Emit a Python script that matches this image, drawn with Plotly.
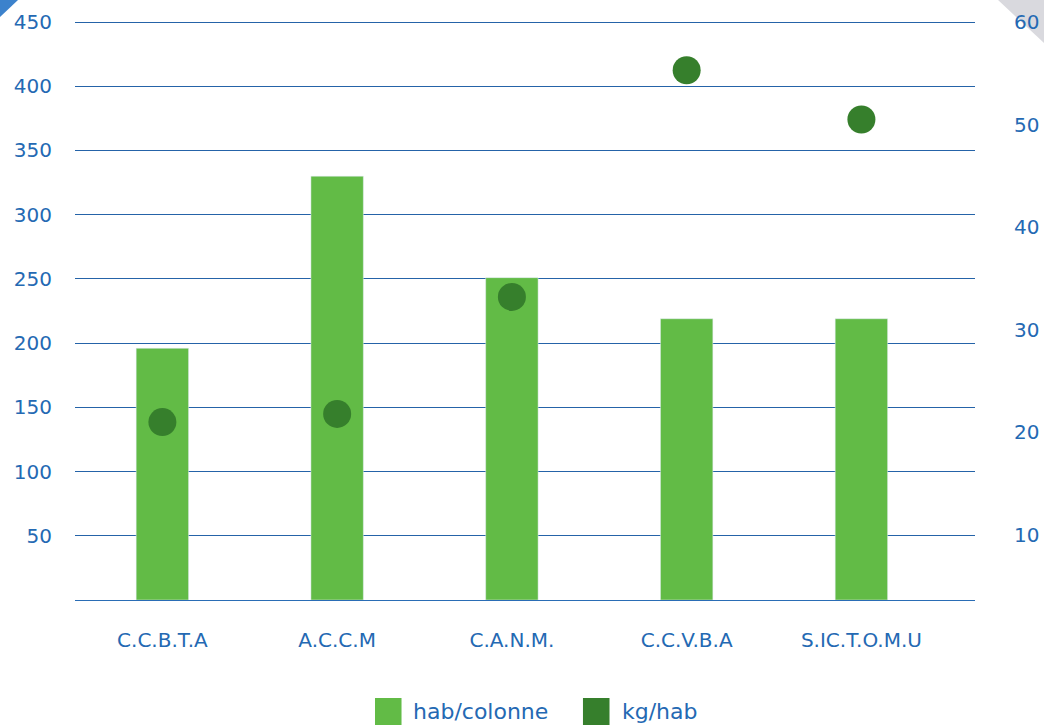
import plotly.graph_objects as go

categories = ['C.C.B.T.A', 'A.C.C.M', 'C.A.N.M.', 'C.C.V.B.A', 'S.IC.T.O.M.U']
hab_colonne = [196, 330, 251, 219, 219]
kg_hab = [21.0, 21.8, 33.2, 55.3, 50.5]

left_ticks = [50, 100, 150, 200, 250, 300, 350, 400, 450]
right_ticks = [10, 20, 30, 40, 50, 60]

BLUE = '#2469b3'
BAR_GREEN = '#62bb46'
DOT_GREEN = '#367f2c'
FONT = 'DejaVu Sans, sans-serif'

fig = go.Figure()
fig.add_trace(go.Bar(name='hab/colonne', x=categories, y=hab_colonne,
                     marker_color=BAR_GREEN, width=0.3, showlegend=False))
fig.add_trace(go.Scatter(name='kg/hab', x=categories, y=kg_hab, yaxis='y2',
                         mode='markers', showlegend=False,
                         marker=dict(color=DOT_GREEN, size=28)))

fig.update_layout(
    width=1044, height=725,
    margin=dict(l=75, r=69, t=20, b=125),
    plot_bgcolor='white', paper_bgcolor='white',
    font=dict(family=FONT, color=BLUE, size=20),
    xaxis=dict(range=[-0.5, 4.65], showgrid=False, showline=True,
               linecolor='#2a6db5', linewidth=1, ticks='', automargin=False,
               ticklabelstandoff=22),
    yaxis=dict(range=[0, 451.6], tickvals=left_ticks, showgrid=True,
               gridcolor='#2563a8', gridwidth=1, zeroline=False,
               ticks='', ticklabelstandoff=22, automargin=False),
    yaxis2=dict(range=[3.66, 60.2], tickvals=right_ticks, overlaying='y',
                side='right', showgrid=False, zeroline=False,
                ticks='', ticklabelstandoff=38, automargin=False),
    showlegend=False,
)

# legend drawn by hand (large squares like the original)
legend_items = [('hab/colonne', BAR_GREEN, 0.3333, 0.3733),
                ('kg/hab', DOT_GREEN, 0.5644, 0.6056)]
for label, color, sx, tx in legend_items:
    fig.add_shape(type='rect', xref='paper', yref='paper',
                  x0=sx, x1=sx + 0.0295, y0=-0.22, y1=-0.169,
                  fillcolor=color, line_width=0)
    fig.add_annotation(text=label, xref='paper', yref='paper', x=tx, y=-0.193,
                       xanchor='left', yanchor='middle', showarrow=False,
                       font=dict(size=22, color=BLUE))

# corner decorations
fig.add_shape(type='path', xref='paper', yref='paper',
              path='M -0.0834,1.0345 L -0.0633,1.0345 L -0.0834,1.0052 Z',
              fillcolor='#3c82cc', line_width=0)
fig.add_shape(type='path', xref='paper', yref='paper', layer='below',
              path='M 1.0256,1.0345 L 1.0767,1.0345 L 1.0767,0.9603 Z',
              fillcolor='#d9d9de', line_width=0)

fig.write_html('out.html', config={'displayModeBar': False},
               post_script="document.body.style.margin='0';")
